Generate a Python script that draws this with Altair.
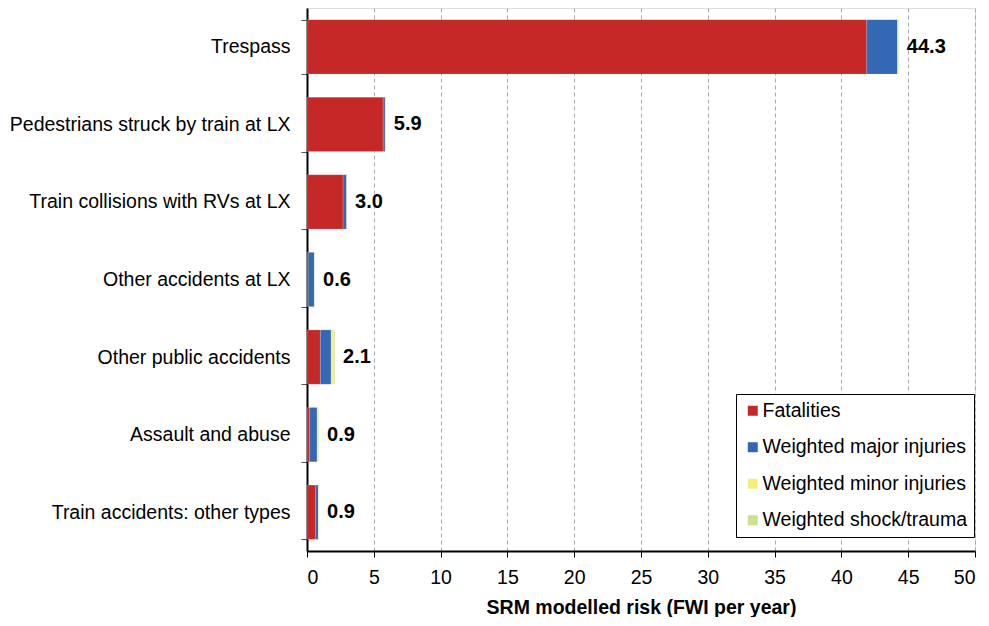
import altair as alt
import pandas as pd

categories = [
    "Trespass",
    "Pedestrians struck by train at LX",
    "Train collisions with RVs at LX",
    "Other accidents at LX",
    "Other public accidents",
    "Assault and abuse",
    "Train accidents: other types",
]
series = ["Fatalities", "Weighted major injuries", "Weighted minor injuries", "Weighted shock/trauma"]
colors = ["#C62828", "#3268B4", "#F5F07A", "#CDE08C"]

fatalities = [41.9, 5.70, 2.70, 0.10, 1.00, 0.20, 0.65]
major = [2.30, 0.15, 0.27, 0.45, 0.80, 0.55, 0.20]
minor = [0.05, 0.03, 0.02, 0.04, 0.25, 0.12, 0.03]
shock = [0.05, 0.02, 0.01, 0.01, 0.05, 0.03, 0.02]

rows = []
for i, c in enumerate(categories):
    for j, (s, vals) in enumerate(zip(series, [fatalities, major, minor, shock])):
        rows.append({"category": c, "series": s, "order": j, "value": vals[i]})
df = pd.DataFrame(rows)

FONT = "Liberation Sans"
FS = 19.5

y_enc = alt.Y(
    "category:N",
    sort=categories,
    title=None,
    scale=alt.Scale(paddingInner=0.3, paddingOuter=0.15),
    axis=alt.Axis(
        labelFontSize=FS, labelFont=FONT, labelColor="black", labelPadding=11,
        tickBand="extent", tickSize=6, tickColor="#555", domainColor="black",
        domainWidth=2, grid=False, labelLimit=400, minExtent=299, maxExtent=299,
    ),
)

bars = alt.Chart(df).mark_bar(stroke="white", strokeWidth=0.3, strokeOpacity=0.5).encode(
    y=y_enc,
    x=alt.X(
        "sum(value):Q",
        stack="zero",
        scale=alt.Scale(domain=[0, 50], nice=False),
        title="SRM modelled risk (FWI per year)",
        axis=alt.Axis(
            values=list(range(0, 55, 5)), labelFontSize=FS, labelFont=FONT,
            labelColor="black", titleFontSize=FS, titleFont=FONT, titleFontWeight="bold",
            titleColor="black", titlePadding=12, tickSize=6, tickColor="black",
            domainColor="black", domainWidth=2, grid=True, gridColor="#aaaaaa",
            gridDash=[4, 3], gridWidth=1, labelPadding=11,
        ),
    ),
    color=alt.Color(
        "series:N",
        scale=alt.Scale(domain=series, range=colors),
        sort=series,
        legend=alt.Legend(
            title=None, orient="none", legendX=429, legendY=386,
            symbolType="square", symbolSize=100, symbolStrokeWidth=0,
            labelFontSize=FS, labelFont=FONT, labelColor="black", rowPadding=15.5,
            strokeColor="black", fillColor="white", padding=7, labelOffset=0,
            labelLimit=300,
        ),
    ),
    order=alt.Order("order:Q"),
)

labels = alt.Chart(df).mark_text(
    align="left", baseline="middle", dx=8, fontSize=20, fontWeight="bold", font=FONT, color="black"
).encode(
    y=alt.Y("category:N", sort=categories),
    x=alt.X("sum(value):Q"),
    text=alt.Text("sum(value):Q", format=".1f"),
)

chart = (
    alt.layer(bars, labels)
    .properties(
        width=973, height=609,
        padding={"left": 0, "top": -10, "right": 5, "bottom": 0},
        autosize=alt.AutoSizeParams(type="fit", contains="padding"),
    )
    .configure_view(stroke="black", strokeWidth=1)
    .configure(background="white")
)

chart.save("out.html", embed_options={"renderer": "svg", "actions": False})
